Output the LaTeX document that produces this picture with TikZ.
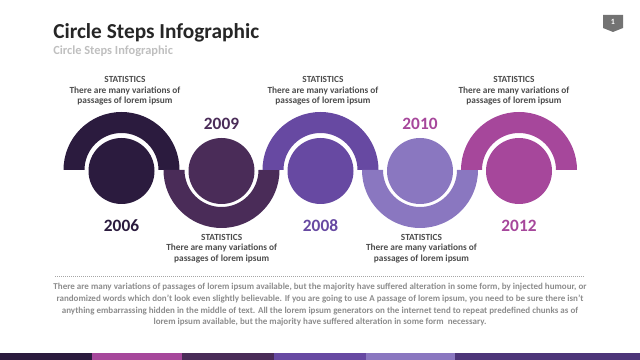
\documentclass[tikz,border=0pt]{standalone}
\usepackage{fontspec}
\setmainfont{Carlito}
\usetikzlibrary{positioning}

\definecolor{cA}{HTML}{2B1B3E}
\definecolor{cB}{HTML}{4A2C58}
\definecolor{cC}{HTML}{6749A2}
\definecolor{cD}{HTML}{8A77C0}
\definecolor{cE}{HTML}{A6479B}
\definecolor{cF}{HTML}{4D3579}
\definecolor{txtgray}{HTML}{8C8C8C}

\tikzset{
  disc/.style={circle, inner sep=0pt, minimum size=49.5pt},
  yearlbl/.style={font=\fontsize{13}{13}\selectfont\bfseries},
  statlbl/.style={align=center, text=black!70, inner sep=0pt,
    font=\fontsize{7}{7.9}\selectfont\bfseries},
}

\begin{document}
\begin{tikzpicture}[x=0.75pt, y=0.75pt]
  \useasboundingbox (0,0) rectangle (640,360);

  % title
  \node[anchor=base west, inner sep=0pt, font=\fontsize{16}{16}\selectfont\bfseries,
    text=black!85] (title) at (53,321.7) {Circle Steps Infographic};
  \node[anchor=base west, inner sep=0pt, font=\fontsize{9.3}{9.3}\selectfont\bfseries,
    text=black!25] (subtitle) at (53,305.7) {Circle Steps Infographic};

  % page number
  \fill[black!55] (603,345) -- (623,345) -- (623,332) -- (613,328) -- (603,332) -- cycle;
  \node[text=white, font=\fontsize{6}{6}\selectfont\bfseries] (pg) at (613,338.5) {1};

  % snake of half rings and discs
  \foreach \i/\cx/\col/\side/\yy/\ycol/\yr in {1/121.5/cA/1/134.3/cA/2006, 2/221.5/cB/-1/236.5/cB/2009,
      3/320.5/cC/1/134.3/cC/2008, 4/420/cD/-1/236.5/cE/2010, 5/519/cE/1/134.3/cE/2012} {
    \fill[\col] (\cx-58,190) arc[start angle=180, delta angle=-180*\side, radius=58]
      -- (\cx+37,190) arc[start angle=0, delta angle=180*\side, radius=37] -- cycle;
    \node[disc, fill=\col] (c\i) at (\cx,189) {};
    \node[yearlbl, text=\ycol] (y\i) at (\cx,\yy) {\yr};
  }

  % statistics labels
  \foreach \n/\sx/\sy in {s1/125/269, s2/221.7/111.5, s3/323/269, s4/421.5/111.5, s5/514/269}
    \node[statlbl] (\n) at (\sx,\sy) {STATISTICS\\There are many variations of\\passages of lorem ipsum};

  % footer text
  \draw[black!35, line width=0.6pt, dash pattern=on 0.6pt off 0.9pt] (55,84) coordinate (d1) -- (584,84) coordinate (d2);
  \node[align=center, text=txtgray, font=\fontsize{6.75}{8.8}\selectfont\bfseries] (body) at (320,55)
    {There are many variations of passages of lorem ipsum available, but the majority have suffered alteration in some form, by injected humour, or\\
     randomized words which don't look even slightly believable. If you are going to use A passage of lorem ipsum, you need to be sure there isn't\\
     anything embarrassing hidden in the middle of text. All the lorem ipsum generators on the internet tend to repeat predefined chunks as of\\
     lorem ipsum available, but the majority have suffered alteration in some form\ \ necessary.};

  % bottom bar
  \foreach \xa/\xb/\col in {0/92/cA, 92/182/cE, 182/274/cB, 274/366/cC, 366/455/cD, 455/640/cF}
    \fill[\col] (\xa,0) rectangle (\xb,6.7);
\end{tikzpicture}
\end{document}
